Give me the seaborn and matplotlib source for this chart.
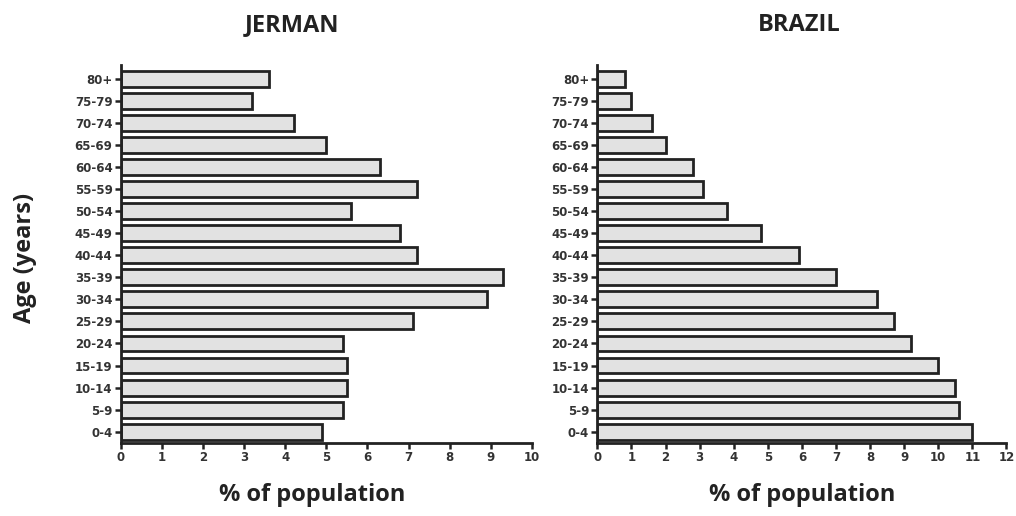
import pandas as pd
import numpy as np
import matplotlib.pyplot as plt
import seaborn as sns

age_groups = ['80+', '75-79', '70-74', '65-69', '60-64', '55-59', '50-54', '45-49',
              '40-44', '35-39', '30-34', '25-29', '20-24', '15-19', '10-14', '5-9', '0-4']
jerman = [3.6, 3.2, 4.2, 5.0, 6.3, 7.2, 5.6, 6.8, 7.2, 9.3, 8.9, 7.1, 5.4, 5.5, 5.5, 5.4, 4.9]
brazil = [0.8, 1.0, 1.6, 2.0, 2.8, 3.1, 3.8, 4.8, 5.9, 7.0, 8.2, 8.7, 9.2, 10.0, 10.5, 10.6, 11.0]

sns.set_style('ticks')
plt.rcParams['font.family'] = ['Open Sans', 'DejaVu Sans']

fig = plt.figure(figsize=(10.16, 5.16), dpi=100)
ax1 = fig.add_axes([0.119, 0.1415, 0.4045, 0.7326])
ax2 = fig.add_axes([0.588, 0.1415, 0.4026, 0.7326])

panels = [(ax1, jerman, 10), (ax2, brazil, 12)]
for ax, vals, xmax in panels:
    df = pd.DataFrame({'age': age_groups, 'pct': vals})
    sns.barplot(data=df, x='pct', y='age', order=age_groups, ax=ax, orient='h',
                color='#e2e2e2', edgecolor='#222222', linewidth=2, width=0.72,
                saturation=1)
    ax.set_xlim(0, xmax)
    ax.set_ylim(16.51, -0.62)
    ax.set_xticks(range(0, xmax + 1))
    ax.set_xlabel('')
    ax.set_ylabel('')
    sns.despine(ax=ax)
    for s in ['left', 'bottom']:
        ax.spines[s].set_linewidth(2)
        ax.spines[s].set_color('#222222')
    ax.tick_params(axis='both', length=4, width=1.8, color='#222222', pad=2)
    for lab in ax.get_xticklabels() + ax.get_yticklabels():
        lab.set_fontfamily('DejaVu Sans')
        lab.set_fontweight('bold')
        lab.set_fontsize(8.5)
        lab.set_color('#333333')

title_kw = dict(fontsize=17, fontweight='bold', color='#222222', ha='center', va='center')
fig.text(292 / 1016, 1 - 25 / 516, 'JERMAN', **title_kw)
fig.text(799 / 1016, 1 - 25 / 516, 'BRAZIL', **title_kw)
fig.text(312 / 1016, 1 - 495 / 516, '% of population', **title_kw)
fig.text(802 / 1016, 1 - 495 / 516, '% of population', **title_kw)
fig.text(25 / 1016, 1 - 258 / 516, 'Age (years)', rotation=90, **title_kw)

fig.savefig('out.png', dpi=100)
